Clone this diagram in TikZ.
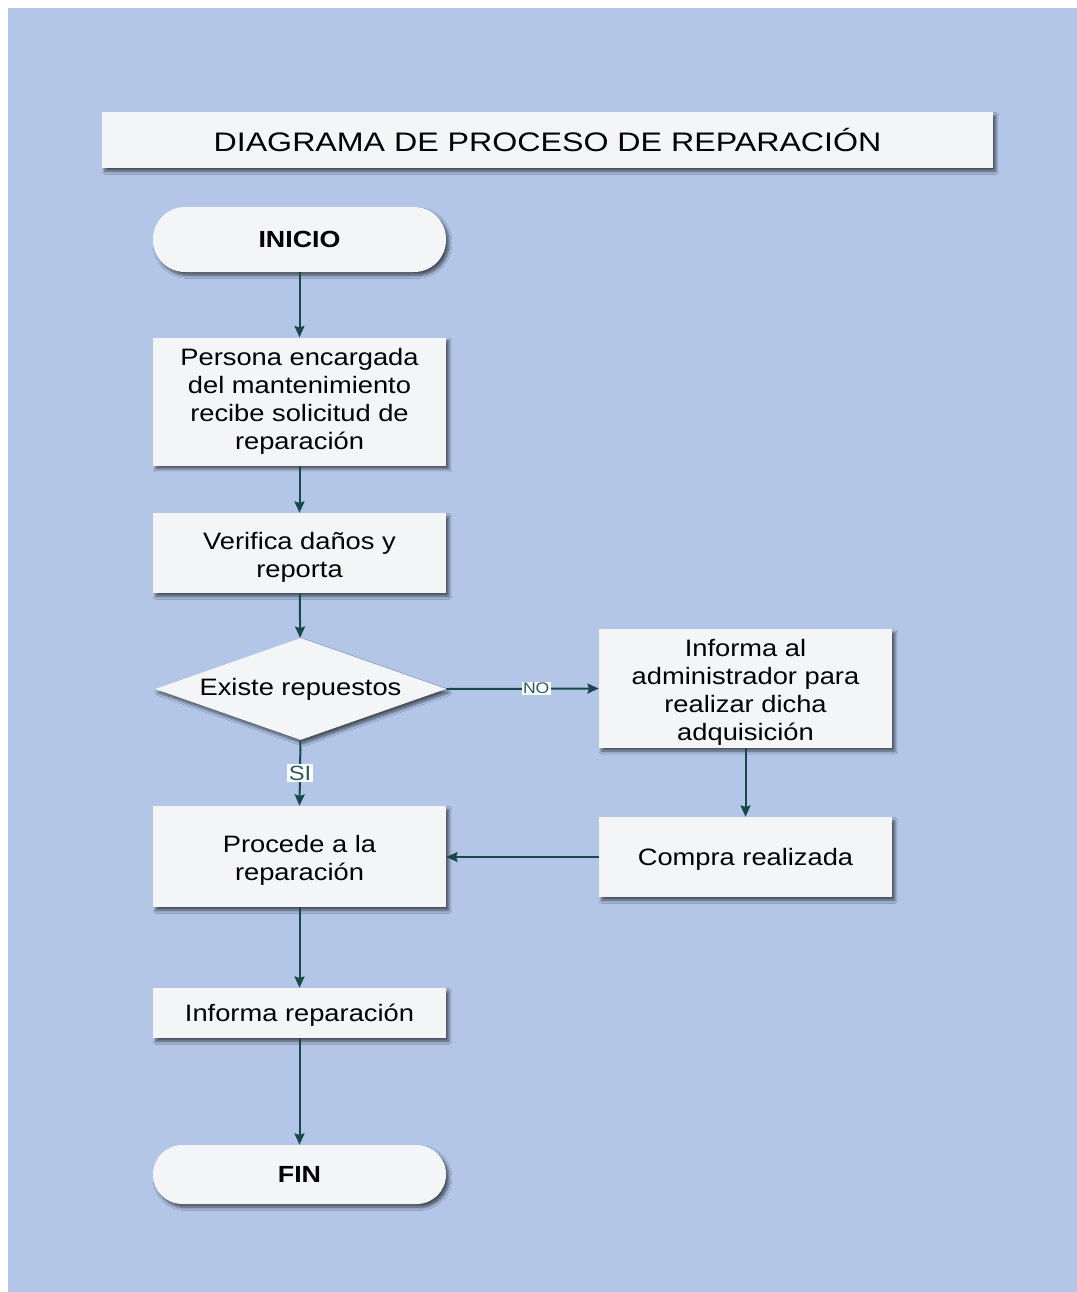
\documentclass[tikz,border=0pt]{standalone}
\usepackage{fontspec}
\setmainfont{Liberation Sans}[FakeStretch=1.15]
\newfontfamily\titlefont{Liberation Sans}[FakeStretch=1.2]
\usetikzlibrary{shapes.geometric,arrows.meta,shadows.blur}
\definecolor{bgblue}{RGB}{179,198,231}
\definecolor{boxfill}{RGB}{244,245,247}
\definecolor{linkteal}{RGB}{24,72,74}
\definecolor{labelteal}{RGB}{40,92,94}
\tikzset{
  boxshadow/.style={blur shadow={shadow xshift=2.2pt, shadow yshift=-2.6pt,
      shadow blur radius=2.2pt, shadow opacity=60, shadow blur steps=8}},
  procbox/.style={rectangle, fill=boxfill, boxshadow, align=center,
      minimum width=293*0.75pt, inner sep=2pt,
      font=\fontsize{17.8}{21}\selectfont},
  termbox/.style={rectangle, rounded corners=24pt, fill=boxfill, boxshadow,
      minimum width=293*0.75pt, font=\fontsize{17.5}{21}\selectfont\bfseries},
  decbox/.style={diamond, fill=boxfill, boxshadow, inner sep=0pt,
      minimum width=291*0.75pt, minimum height=102*0.75pt,
      font=\fontsize{17.8}{21}\selectfont},
  link/.style={draw=linkteal, line width=1.5pt,
      -{Stealth[length=8.5pt, width=7.5pt, inset=1.2pt]}},
  edgelabel/.style={fill=white, text=labelteal, inner sep=1pt}
}
\begin{document}
\begin{tikzpicture}[x=0.75pt, y=-0.75pt]
  % canvas
  \useasboundingbox (0,0) rectangle (1077,1292);
  \fill[bgblue] (8,8) rectangle (1077,1292);

  % title banner
  \node[rectangle, fill=boxfill, boxshadow, minimum width=891*0.75pt,
        minimum height=56*0.75pt, font=\titlefont\fontsize{20.1}{23}\selectfont]
        (title) at (547.5,140) {DIAGRAMA DE PROCESO DE REPARACIÓN};

  % main column
  \node[termbox, minimum height=65*0.75pt] (inicio) at (299.5,239.5) {INICIO};
  \node[procbox, minimum height=128*0.75pt] (recibe) at (299.5,401.5)
        {Persona encargada\\del mantenimiento\\recibe solicitud de\\reparación};
  \node[procbox, minimum height=80*0.75pt] (verifica) at (299.5,553)
        {\rule{0pt}{20pt}Verifica daños y\\reporta};
  \node[decbox] (existe) at (300.5,689) {\makebox[0pt]{Existe repuestos}};
  \node[procbox, minimum height=101*0.75pt] (procede) at (299.5,856.5)
        {\rule{0pt}{19pt}Procede a la\\reparación};
  \node[procbox, minimum height=50*0.75pt] (informa) at (299.5,1013)
        {\rule{0pt}{16pt}Informa reparación};
  \node[termbox, minimum height=59*0.75pt, rounded corners=22pt] (fin) at (299.5,1174.5) {FIN};

  % purchase branch
  \node[procbox, minimum height=117*0.75pt] (admin) at (745.5,688.5)
        {\rule{0pt}{18pt}Informa al\\administrador para\\realizar dicha\\adquisición};
  \node[procbox, minimum height=80*0.75pt] (compra) at (745.5,857)
        {\rule{0pt}{16pt}Compra realizada};

  % connectors
  \draw[link] (inicio) -- (recibe);
  \draw[link] (recibe) -- (verifica);
  \draw[link] (verifica) -- (existe);
  \draw[link] (existe.east) -- node[edgelabel, pos=0.59,
        font=\fontsize{11.5}{12}\selectfont] (no) {NO} (admin.west);
  \draw[link] (existe.south) -- node[edgelabel, pos=0.5,
        font=\fontsize{15.5}{16}\selectfont] (si) {SI} (procede.north);
  \draw[link] (admin) -- (compra);
  \draw[link] (compra.west) -- (procede.east |- compra.west);
  \draw[link] (procede) -- (informa);
  \draw[link] (informa) -- (fin);
\end{tikzpicture}
\end{document}
